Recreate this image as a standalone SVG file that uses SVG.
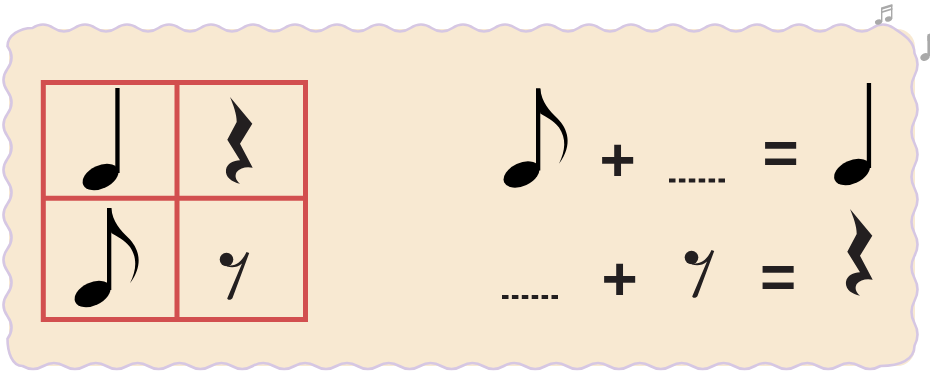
<svg xmlns="http://www.w3.org/2000/svg" width="930" height="377" viewBox="0 0 930 377">
<style>
.board{fill:#f8e9d2}
.edge{fill:#f8e9d2;stroke:#d6c7e3;stroke-width:2.6}
.grid{fill:none;stroke:#d24f4f;stroke-width:5}
.ink{fill:#000}
.rest{fill:#231f20}
.op{font-family:"Liberation Sans",Arial,sans-serif;font-weight:bold;font-size:62px;fill:#231f20;text-anchor:middle}
.blank{stroke:#231f20;stroke-width:4;stroke-dasharray:6.5 3.4}
.deco{fill:#a9a9a9}
</style>
<defs>
<g id="quarterNote">
<ellipse cx="0" cy="0" rx="19" ry="11.5" transform="rotate(-25)"/>
<rect x="14.8" y="-89" width="4.3" height="85"/>
</g>
<g id="eighthNote">
<ellipse cx="0" cy="0" rx="19" ry="11.5" transform="rotate(-25)"/>
<rect x="14.5" y="-86" width="4.3" height="82"/>
<path d="M14.5 -86 L18.8 -86 C20 -72 28 -64 36 -56 C46 -46 52 -30 37.5 -10.7 C44 -24 45 -36 37.5 -47 C32 -54 24 -58 18.8 -61 Z"/>
</g>
<path id="quarterRest" d="M0 0 L22.3 26.7 L10 46.7 L22.7 70.7 C16.7 69.3 10 70.7 6.7 75 C4.3 79.3 6 83.3 10 86.7 C1.7 85 -5 80 -4 72.7 C-3 66.7 3.3 63.3 10 63.3 L-2.7 42.7 L6.7 25 C6.7 16.7 3.3 8.3 0 0 Z"/>
<g id="eighthRest">
<circle cx="-21.5" cy="6.5" r="6.8"/>
<path d="M-21 12 C-13 14 -6 9 -1.5 -1 L1.2 0 L-15.5 45 C-16.5 47 -20 47.5 -20.8 45.5 L-6 10.5 C-10.5 14.5 -16 15 -21 13.5 Z"/>
</g>
</defs>

<g id="background">
<rect class="board" x="9" y="29" width="906" height="337" rx="18"/>
<path class="edge" d="M32.5 28 q10.5 -7 21 0 t21 0 t21 0 t21 0 t21 0 t21 0 t21 0 t21 0 t21 0 t21 0 t21 0 t21 0 t21 0 t21 0 t21 0 t21 0 t21 0 t21 0 t21 0 t21 0 t21 0 t21 0 t21 0 t21 0 t21 0 t21 0 t21 0 t21 0 t21 0 t21 0 t21 0 t21 0 t21 0 t21 0 t21 0 t21 0 t21 0 t21 0 t21 0 t21 0 t21 0 C900 32.5 914.5 40 914.5 53.25 q6 11.25 0 22.5 t0 22.5 t0 22.5 t0 22.5 t0 22.5 t0 22.5 t0 22.5 t0 22.5 t0 22.5 t0 22.5 t0 22.5 t0 22.5 t0 22.5 C914.5 360 900 366 880.5 366 q-10.4625 6 -20.925 0 t-20.925 0 t-20.925 0 t-20.925 0 t-20.925 0 t-20.925 0 t-20.925 0 t-20.925 0 t-20.925 0 t-20.925 0 t-20.925 0 t-20.925 0 t-20.925 0 t-20.925 0 t-20.925 0 t-20.925 0 t-20.925 0 t-20.925 0 t-20.925 0 t-20.925 0 t-20.925 0 t-20.925 0 t-20.925 0 t-20.925 0 t-20.925 0 t-20.925 0 t-20.925 0 t-20.925 0 t-20.925 0 t-20.925 0 t-20.925 0 t-20.925 0 t-20.925 0 t-20.925 0 t-20.925 0 t-20.925 0 t-20.925 0 t-20.925 0 t-20.925 0 t-20.925 0 t-20.925 0 C12 366 7.5 352 7.5 338.75 q8 -11.25 0 -22.5 t0 -22.5 t0 -22.5 t0 -22.5 t0 -22.5 t0 -22.5 t0 -22.5 t0 -22.5 t0 -22.5 t0 -22.5 t0 -22.5 t0 -22.5 t0 -22.5 C7.5 35 20 28 32.5 28 Z"/>
</g>

<g id="decoration">
<g class="deco">
<ellipse cx="878.5" cy="22" rx="3.6" ry="2.6" transform="rotate(-20 878.5 22)"/>
<ellipse cx="888.5" cy="19" rx="3.6" ry="2.6" transform="rotate(-20 888.5 19)"/>
<rect x="881" y="8" width="1.4" height="14"/>
<rect x="891" y="5" width="1.4" height="14"/>
<path d="M881 7.5 L892.4 4 L892.4 6.5 L881 10 Z"/>
<path d="M881 11.5 L892.4 8 L892.4 9.8 L881 13.3 Z"/>
<ellipse cx="925" cy="57" rx="4.8" ry="3.8" transform="rotate(-20 925 57)"/>
<rect x="927.4" y="36" width="2.6" height="20"/>
<path d="M927.4 34.5 L930 33.5 L930 40 L927.4 41 Z"/>
</g>
</g>

<g id="grid">
<rect class="grid" x="43.3" y="82.5" width="262.2" height="237"/>
<line class="grid" x1="177" y1="82.5" x2="177" y2="319.5"/>
<line class="grid" x1="43.3" y1="198.3" x2="305.5" y2="198.3"/>
</g>

<g id="cell-quarter-note" class="ink"><use href="#quarterNote" x="100.5" y="177"/></g>
<g id="cell-quarter-rest" class="rest"><use href="#quarterRest" x="230" y="97"/></g>
<g id="cell-eighth-note" class="ink"><use href="#eighthNote" x="92.5" y="294"/></g>
<g id="cell-eighth-rest" class="rest"><use href="#eighthRest" x="248" y="253"/></g>

<g id="equation-1">
<g id="eq1-eighth-note" class="ink"><use href="#eighthNote" x="521.5" y="174.5"/></g>
<text class="op" x="617.5" y="181">+</text>
<line class="blank" x1="669" y1="180.5" x2="725" y2="180.5"/>
<text class="op" x="780.5" y="173.5">=</text>
<g id="eq1-quarter-note" class="ink"><use href="#quarterNote" x="852" y="172"/></g>
</g>

<g id="equation-2">
<line class="blank" x1="502" y1="297" x2="558" y2="297"/>
<text class="op" x="619.5" y="299.5">+</text>
<g id="eq2-eighth-rest" class="rest"><use href="#eighthRest" x="713" y="251"/></g>
<text class="op" x="778" y="298">=</text>
<g id="eq2-quarter-rest" class="rest"><use href="#quarterRest" x="850" y="209"/></g>
</g>

<g id="connectors"></g>
</svg>
